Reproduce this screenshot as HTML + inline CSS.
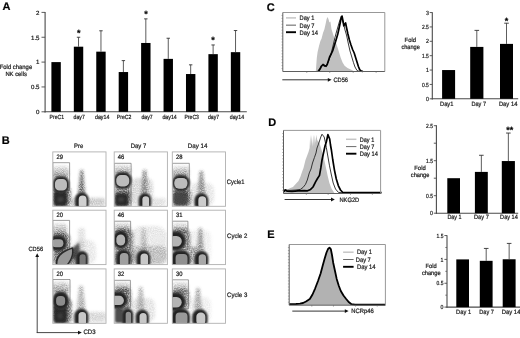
<!DOCTYPE html>
<html><head><meta charset="utf-8"><title>Figure</title>
<style>
html,body{margin:0;padding:0;background:#fff;}
body{width:520px;height:338px;overflow:hidden;font-family:"Liberation Sans",sans-serif;}
svg{display:block;position:absolute;left:0;top:0;}
text{font-family:"Liberation Sans",sans-serif;stroke:#222;stroke-width:0.22px;text-rendering:geometricPrecision;}
svg{filter:blur(0.32px);}
</style></head><body>
<svg width="520" height="338" viewBox="0 0 520 338">
<defs>
<linearGradient id="gv" x1="0" y1="0" x2="0" y2="1"><stop offset="0" stop-color="#555" stop-opacity="0.15"/><stop offset="0.55" stop-color="#555" stop-opacity="0.7"/><stop offset="1" stop-color="#444" stop-opacity="1"/></linearGradient>
<filter id="b05" x="-20%" y="-20%" width="140%" height="140%"><feGaussianBlur stdDeviation="0.5"/></filter>
<filter id="b1" x="-30%" y="-30%" width="160%" height="160%"><feGaussianBlur stdDeviation="1"/></filter>
<filter id="b15" x="-40%" y="-40%" width="180%" height="180%"><feGaussianBlur stdDeviation="1.5"/></filter>
<filter id="b2" x="-50%" y="-50%" width="200%" height="200%"><feGaussianBlur stdDeviation="2.2"/></filter>
<filter id="spk" x="-30%" y="-30%" width="160%" height="160%">
  <feGaussianBlur in="SourceGraphic" stdDeviation="1.6" result="bl"/>
  <feTurbulence type="fractalNoise" baseFrequency="0.95" numOctaves="2" seed="7" result="n"/>
  <feColorMatrix in="n" type="matrix" values="0 0 0 0 0  0 0 0 0 0  0 0 0 0 0  0 0 0 1.1 0.05" result="t"/>
  <feComposite in="bl" in2="t" operator="in" result="c"/>
  <feGaussianBlur in="c" stdDeviation="0.55"/>
</filter>
<filter id="b09" x="-30%" y="-30%" width="160%" height="160%"><feGaussianBlur stdDeviation="0.9"/></filter>
<filter id="b08" x="-30%" y="-30%" width="160%" height="160%"><feGaussianBlur stdDeviation="0.8"/></filter>
<filter id="b06" x="-30%" y="-30%" width="160%" height="160%"><feGaussianBlur stdDeviation="0.6"/></filter>
<filter id="b07" x="-30%" y="-30%" width="160%" height="160%"><feGaussianBlur stdDeviation="0.75"/></filter>
<filter id="b03" x="-5%" y="-5%" width="110%" height="110%"><feGaussianBlur stdDeviation="0.3"/></filter>
</defs>
<rect width="520" height="338" fill="#fff"/>

<g id="panelA">
<text x="2.6" y="10.2" font-size="11" text-anchor="start" font-weight="bold" fill="#000">A</text>
<line x1="45.1" y1="11.9" x2="45.1" y2="112.39999999999999" stroke="#4a4a4a" stroke-width="1.1"/>
<line x1="44.6" y1="111.8" x2="246.8" y2="111.8" stroke="#4a4a4a" stroke-width="1.1"/>
<line x1="41.5" y1="111.8" x2="45.1" y2="111.8" stroke="#4a4a4a" stroke-width="0.9"/>
<text x="39.5" y="114.05" font-size="6.1" text-anchor="end" font-weight="normal" fill="#222">0</text>
<line x1="41.5" y1="86.94999999999999" x2="45.1" y2="86.94999999999999" stroke="#4a4a4a" stroke-width="0.9"/>
<text x="39.5" y="89.19999999999999" font-size="6.1" text-anchor="end" font-weight="normal" fill="#222">0.5</text>
<line x1="41.5" y1="62.099999999999994" x2="45.1" y2="62.099999999999994" stroke="#4a4a4a" stroke-width="0.9"/>
<text x="39.5" y="64.35" font-size="6.1" text-anchor="end" font-weight="normal" fill="#222">1</text>
<line x1="41.5" y1="37.249999999999986" x2="45.1" y2="37.249999999999986" stroke="#4a4a4a" stroke-width="0.9"/>
<text x="39.5" y="39.499999999999986" font-size="6.1" text-anchor="end" font-weight="normal" fill="#222">1.5</text>
<line x1="41.5" y1="12.399999999999991" x2="45.1" y2="12.399999999999991" stroke="#4a4a4a" stroke-width="0.9"/>
<text x="39.5" y="14.649999999999991" font-size="6.1" text-anchor="end" font-weight="normal" fill="#222">2</text>
<rect x="51.4" y="62.1" width="9.4" height="49.7" fill="#000"/>
<text x="49.6" y="118.6" font-size="6.0" text-anchor="start" font-weight="normal" fill="#222" textLength="14.6" lengthAdjust="spacingAndGlyphs">PreC1</text>
<rect x="73.83" y="46.69" width="9.4" height="65.11" fill="#000"/>
<line x1="78.53" y1="37.249999999999986" x2="78.53" y2="46.693" stroke="#333" stroke-width="0.8"/>
<line x1="76.83" y1="37.249999999999986" x2="80.23" y2="37.249999999999986" stroke="#333" stroke-width="0.9"/>
<text x="73.6" y="118.6" font-size="6.0" text-anchor="start" font-weight="normal" fill="#222" textLength="11.2" lengthAdjust="spacingAndGlyphs">day7</text>
<rect x="96.26" y="51.66" width="9.4" height="60.14" fill="#000"/>
<line x1="100.96000000000001" y1="30.789" x2="100.96000000000001" y2="51.663" stroke="#333" stroke-width="0.8"/>
<line x1="99.26" y1="30.789" x2="102.66000000000001" y2="30.789" stroke="#333" stroke-width="0.9"/>
<text x="95.0" y="118.6" font-size="6.0" text-anchor="start" font-weight="normal" fill="#222" textLength="14.4" lengthAdjust="spacingAndGlyphs">day14</text>
<rect x="118.69" y="72.04" width="9.4" height="39.76" fill="#000"/>
<line x1="123.38999999999999" y1="60.608999999999995" x2="123.38999999999999" y2="72.03999999999999" stroke="#333" stroke-width="0.8"/>
<line x1="121.68999999999998" y1="60.608999999999995" x2="125.08999999999999" y2="60.608999999999995" stroke="#333" stroke-width="0.9"/>
<text x="116.8" y="118.6" font-size="6.0" text-anchor="start" font-weight="normal" fill="#222" textLength="14.6" lengthAdjust="spacingAndGlyphs">PreC2</text>
<rect x="141.12" y="42.97" width="9.4" height="68.83" fill="#000"/>
<line x1="145.82" y1="18.86099999999999" x2="145.82" y2="42.96549999999999" stroke="#333" stroke-width="0.8"/>
<line x1="144.12" y1="18.86099999999999" x2="147.51999999999998" y2="18.86099999999999" stroke="#333" stroke-width="0.9"/>
<text x="141.5" y="118.6" font-size="6.0" text-anchor="start" font-weight="normal" fill="#222" textLength="11.2" lengthAdjust="spacingAndGlyphs">day7</text>
<rect x="163.55" y="58.87" width="9.4" height="52.93" fill="#000"/>
<line x1="168.25" y1="38.244" x2="168.25" y2="58.869499999999995" stroke="#333" stroke-width="0.8"/>
<line x1="166.55" y1="38.244" x2="169.95" y2="38.244" stroke="#333" stroke-width="0.9"/>
<text x="162.4" y="118.6" font-size="6.0" text-anchor="start" font-weight="normal" fill="#222" textLength="14.4" lengthAdjust="spacingAndGlyphs">day14</text>
<rect x="185.98" y="74.03" width="9.4" height="37.77" fill="#000"/>
<line x1="190.67999999999998" y1="64.83349999999999" x2="190.67999999999998" y2="74.02799999999999" stroke="#333" stroke-width="0.8"/>
<line x1="188.98" y1="64.83349999999999" x2="192.37999999999997" y2="64.83349999999999" stroke="#333" stroke-width="0.9"/>
<text x="184.4" y="118.6" font-size="6.0" text-anchor="start" font-weight="normal" fill="#222" textLength="14.6" lengthAdjust="spacingAndGlyphs">PreC3</text>
<rect x="208.41" y="54.15" width="9.4" height="57.65" fill="#000"/>
<line x1="213.10999999999999" y1="44.95349999999999" x2="213.10999999999999" y2="54.147999999999996" stroke="#333" stroke-width="0.8"/>
<line x1="211.41" y1="44.95349999999999" x2="214.80999999999997" y2="44.95349999999999" stroke="#333" stroke-width="0.9"/>
<text x="208.0" y="118.6" font-size="6.0" text-anchor="start" font-weight="normal" fill="#222" textLength="11.2" lengthAdjust="spacingAndGlyphs">day7</text>
<rect x="230.84" y="52.16" width="9.4" height="59.64" fill="#000"/>
<line x1="235.54" y1="30.540499999999994" x2="235.54" y2="52.16" stroke="#333" stroke-width="0.8"/>
<line x1="233.84" y1="30.540499999999994" x2="237.23999999999998" y2="30.540499999999994" stroke="#333" stroke-width="0.9"/>
<text x="229.7" y="118.6" font-size="6.0" text-anchor="start" font-weight="normal" fill="#222" textLength="14.4" lengthAdjust="spacingAndGlyphs">day14</text>
<text x="78.7" y="35.6" font-size="9" text-anchor="middle" font-weight="bold" fill="#000">*</text>
<text x="146" y="17.3" font-size="9" text-anchor="middle" font-weight="bold" fill="#000">*</text>
<text x="213" y="42.7" font-size="9" text-anchor="middle" font-weight="bold" fill="#000">*</text>
<text x="-0.3" y="68.9" font-size="6.3" text-anchor="start" font-weight="normal" fill="#1a1a1a" textLength="32.5" lengthAdjust="spacingAndGlyphs">Fold change</text>
<text x="5.4" y="76.0" font-size="6.2" text-anchor="start" font-weight="normal" fill="#1a1a1a" textLength="21.5" lengthAdjust="spacingAndGlyphs">NK cells</text>
</g>
<g id="panelB">
<text x="1.8" y="144.2" font-size="11" text-anchor="start" font-weight="bold" fill="#000">B</text>
<text x="74" y="148" font-size="6.4" text-anchor="start" font-weight="normal" fill="#1a1a1a" textLength="9.2" lengthAdjust="spacingAndGlyphs">Pre</text>
<text x="130.8" y="148" font-size="6.4" text-anchor="start" font-weight="normal" fill="#1a1a1a" textLength="15.4" lengthAdjust="spacingAndGlyphs">Day 7</text>
<text x="187.8" y="148" font-size="6.4" text-anchor="start" font-weight="normal" fill="#1a1a1a" textLength="19.6" lengthAdjust="spacingAndGlyphs">Day 14</text>
<text x="226.8" y="183.7" font-size="6.5" text-anchor="start" font-weight="normal" fill="#1a1a1a" textLength="17.7" lengthAdjust="spacingAndGlyphs">Cycle1</text>
<text x="227" y="238.1" font-size="6.5" text-anchor="start" font-weight="normal" fill="#1a1a1a" textLength="20.3" lengthAdjust="spacingAndGlyphs">Cycle 2</text>
<text x="227" y="297" font-size="6.5" text-anchor="start" font-weight="normal" fill="#1a1a1a" textLength="20.3" lengthAdjust="spacingAndGlyphs">Cycle 3</text>
<text x="28.5" y="250.5" font-size="6.2" text-anchor="start" font-weight="normal" fill="#1a1a1a" textLength="14.6" lengthAdjust="spacingAndGlyphs">CD56</text>
<text x="83.5" y="334.2" font-size="6.4" text-anchor="start" font-weight="normal" fill="#1a1a1a" textLength="12" lengthAdjust="spacingAndGlyphs">CD3</text>
<line x1="37.2" y1="256" x2="37.2" y2="333.0" stroke="#333" stroke-width="0.9"/>
<line x1="36.8" y1="332.6" x2="78.4" y2="332.6" stroke="#333" stroke-width="0.9"/>
<path d="M37.2 253.3 L35.3 257 L39.1 257Z" fill="#111"/>
<path d="M81.8 332.6 L78 330.7 L78 334.5Z" fill="#111"/>
<g>
<clipPath id="c1"><rect x="52.8" y="151.9" width="53.2" height="54.4"/></clipPath>
<g clip-path="url(#c1)">
<path d="M56.70 165.50 H64.70 A3.9 3.9 0 0 1 68.60 169.40 V174.60 A3.9 3.9 0 0 1 64.70 178.50 H56.70 A3.9 3.9 0 0 1 52.80 174.60 V169.40 A3.9 3.9 0 0 1 56.70 165.50Z" fill="url(#gv)" opacity="0.95" filter="url(#spk)"/>
<path d="M58.20 186.00 H65.40 A5.3999999999999995 5.3999999999999995 0 0 1 70.80 191.40 V201.60 A5.3999999999999995 5.3999999999999995 0 0 1 65.40 207.00 H58.20 A5.3999999999999995 5.3999999999999995 0 0 1 52.80 201.60 V191.40 A5.3999999999999995 5.3999999999999995 0 0 1 58.20 186.00Z" fill="#333" opacity="0.9" filter="url(#spk)"/>
<path d="M80.35 170 L82.85 170 L85.1 194 L78.1 194Z" fill="#333" opacity="1" filter="url(#spk)"/>
<path d="M72.40 198.00 H102.60 A2.4 2.4 0 0 1 105.00 200.40 V203.60 A2.4 2.4 0 0 1 102.60 206.00 H72.40 A2.4 2.4 0 0 1 70.00 203.60 V200.40 A2.4 2.4 0 0 1 72.40 198.00Z" fill="#888" opacity="0.65" filter="url(#spk)"/>
<path d="M52.8 190.7 L52.8 162.7 L69.6 162.7 L69.6 190.7 Z" fill="none" stroke="#6a6a6a" stroke-width="0.65" filter="url(#b03)"/>
<path d="M57.60 190.50 H63.20 A4.2 4.2 0 0 1 67.40 194.70 V202.30 A4.2 4.2 0 0 1 63.20 206.50 H57.60 A4.2 4.2 0 0 1 53.40 202.30 V194.70 A4.2 4.2 0 0 1 57.60 190.50Z" fill="#262626" opacity="0.95" filter="url(#b1)"/>
<path d="M57.5 199.5 A3 2.5 0 1 0 63.5 199.5 A3 2.5 0 1 0 57.5 199.5Z" fill="#555" opacity="0.5" filter="url(#b1)"/>
<path d="M59.80 176.20 H62.20 A7 7 0 0 1 69.20 183.20 V185.80 A7 7 0 0 1 62.20 192.80 H59.80 A7 7 0 0 1 52.80 185.80 V183.20 A7 7 0 0 1 59.80 176.20Z" fill="#505050" filter="url(#b1)" opacity="0.7"/>
<path d="M59.30 176.70 H62.70 A6 6 0 0 1 68.70 182.70 V186.30 A6 6 0 0 1 62.70 192.30 H59.30 A6 6 0 0 1 53.30 186.30 V182.70 A6 6 0 0 1 59.30 176.70Z" fill="#242424" filter="url(#b08)"/>
<path d="M59.31 178.95 H62.59 A4.368 4.368 0 0 1 66.96 183.32 V186.19 A4.368 4.368 0 0 1 62.59 190.56 H59.31 A4.368 4.368 0 0 1 54.94 186.19 V183.32 A4.368 4.368 0 0 1 59.31 178.95Z" fill="#bcbcbc" filter="url(#b07)"/>
<path d="M81.80 192.60 H81.80 A6.600000000000001 6.600000000000001 0 0 1 88.40 199.20 V204.90 A6.600000000000001 6.600000000000001 0 0 1 81.80 211.50 H81.80 A6.600000000000001 6.600000000000001 0 0 1 75.20 204.90 V199.20 A6.600000000000001 6.600000000000001 0 0 1 81.80 192.60Z" fill="#505050" filter="url(#b1)" opacity="0.88"/>
<path d="M81.70 193.10 H81.90 A6 6 0 0 1 87.90 199.10 V205.00 A6 6 0 0 1 81.90 211.00 H81.70 A6 6 0 0 1 75.70 205.00 V199.10 A6 6 0 0 1 81.70 193.10Z" fill="#242424" filter="url(#b08)"/>
<path d="M82.59 195.57 H82.68 A3.888 3.888 0 0 1 86.56 199.46 V204.77 A3.888 3.888 0 0 1 82.68 208.66 H82.59 A3.888 3.888 0 0 1 78.70 204.77 V199.46 A3.888 3.888 0 0 1 82.59 195.57Z" fill="#d0d0d0" filter="url(#b07)"/>
</g>
<rect x="52.8" y="151.9" width="53.2" height="54.4" fill="none" stroke="#b0b0b0" stroke-width="0.9"/>
<text x="56.4" y="158.9" font-size="6.3" text-anchor="start" font-weight="normal" fill="#111" textLength="6.5" lengthAdjust="spacingAndGlyphs">29</text>
</g>
<g>
<clipPath id="c2"><rect x="114.2" y="151.9" width="53.2" height="54.4"/></clipPath>
<g clip-path="url(#c2)">
<path d="M117.20 164.50 H127.80 A3.0 3.0 0 0 1 130.80 167.50 V171.50 A3.0 3.0 0 0 1 127.80 174.50 H117.20 A3.0 3.0 0 0 1 114.20 171.50 V167.50 A3.0 3.0 0 0 1 117.20 164.50Z" fill="url(#gv)" opacity="0.85" filter="url(#spk)"/>
<path d="M117.20 186.00 H128.20 A3.0 3.0 0 0 1 131.20 189.00 V193.00 A3.0 3.0 0 0 1 128.20 196.00 H117.20 A3.0 3.0 0 0 1 114.20 193.00 V189.00 A3.0 3.0 0 0 1 117.20 186.00Z" fill="#555" opacity="1" filter="url(#spk)"/>
<path d="M118.70 192.00 H126.70 A4.5 4.5 0 0 1 131.20 196.50 V202.50 A4.5 4.5 0 0 1 126.70 207.00 H118.70 A4.5 4.5 0 0 1 114.20 202.50 V196.50 A4.5 4.5 0 0 1 118.70 192.00Z" fill="#333" opacity="0.9" filter="url(#spk)"/>
<path d="M143.1 170 L146.1 170 L148.1 194 L141.1 194Z" fill="#444" opacity="0.95" filter="url(#spk)"/>
<path d="M137.60 178.00 H146.40 A6.6 6.6 0 0 1 153.00 184.60 V199.40 A6.6 6.6 0 0 1 146.40 206.00 H137.60 A6.6 6.6 0 0 1 131.00 199.40 V184.60 A6.6 6.6 0 0 1 137.60 178.00Z" fill="#999" opacity="0.55" filter="url(#spk)"/>
<path d="M152.40 198.00 H163.60 A2.4 2.4 0 0 1 166.00 200.40 V203.60 A2.4 2.4 0 0 1 163.60 206.00 H152.40 A2.4 2.4 0 0 1 150.00 203.60 V200.40 A2.4 2.4 0 0 1 152.40 198.00Z" fill="#aaa" opacity="0.5" filter="url(#spk)"/>
<path d="M114.2 206.3 L114.2 163.3 L131.1 163.3 L131.1 206.3 Z" fill="none" stroke="#6a6a6a" stroke-width="0.65" filter="url(#b03)"/>
<path d="M118.90 193.50 H124.60 A3.9 3.9 0 0 1 128.50 197.40 V202.60 A3.9 3.9 0 0 1 124.60 206.50 H118.90 A3.9 3.9 0 0 1 115.00 202.60 V197.40 A3.9 3.9 0 0 1 118.90 193.50Z" fill="#262626" opacity="0.95" filter="url(#b1)"/>
<path d="M118 199.5 A3 2.2 0 1 0 124 199.5 A3 2.2 0 1 0 118 199.5Z" fill="#555" opacity="0.5" filter="url(#b1)"/>
<path d="M121.50 172.10 H124.10 A7.5 7.5 0 0 1 131.60 179.60 V181.30 A7.5 7.5 0 0 1 124.10 188.80 H121.50 A7.5 7.5 0 0 1 114.00 181.30 V179.60 A7.5 7.5 0 0 1 121.50 172.10Z" fill="#505050" filter="url(#b1)" opacity="0.7"/>
<path d="M121.00 172.60 H124.60 A6.5 6.5 0 0 1 131.10 179.10 V181.80 A6.5 6.5 0 0 1 124.60 188.30 H121.00 A6.5 6.5 0 0 1 114.50 181.80 V179.10 A6.5 6.5 0 0 1 121.00 172.60Z" fill="#242424" filter="url(#b08)"/>
<path d="M121.02 175.00 H124.47 A4.772 4.772 0 0 1 129.24 179.77 V181.67 A4.772 4.772 0 0 1 124.47 186.44 H121.02 A4.772 4.772 0 0 1 116.25 181.67 V179.77 A4.772 4.772 0 0 1 121.02 175.00Z" fill="#bcbcbc" filter="url(#b07)"/>
<path d="M144.90 193.20 H144.90 A5.999999999999986 5.999999999999986 0 0 1 150.90 199.20 V205.50 A5.999999999999986 5.999999999999986 0 0 1 144.90 211.50 H144.90 A5.999999999999986 5.999999999999986 0 0 1 138.90 205.50 V199.20 A5.999999999999986 5.999999999999986 0 0 1 144.90 193.20Z" fill="#505050" filter="url(#b1)" opacity="0.88"/>
<path d="M144.90 193.70 H144.90 A5.499999999999986 5.499999999999986 0 0 1 150.40 199.20 V205.50 A5.499999999999986 5.499999999999986 0 0 1 144.90 211.00 H144.90 A5.499999999999986 5.499999999999986 0 0 1 139.40 205.50 V199.20 A5.499999999999986 5.499999999999986 0 0 1 144.90 193.70Z" fill="#242424" filter="url(#b08)"/>
<path d="M145.73 196.17 H145.73 A3.3315999999999946 3.3315999999999946 0 0 1 149.06 199.50 V205.33 A3.3315999999999946 3.3315999999999946 0 0 1 145.73 208.66 H145.73 A3.3315999999999946 3.3315999999999946 0 0 1 142.40 205.33 V199.50 A3.3315999999999946 3.3315999999999946 0 0 1 145.73 196.17Z" fill="#cccccc" filter="url(#b07)"/>
</g>
<rect x="114.2" y="151.9" width="53.2" height="54.4" fill="none" stroke="#b0b0b0" stroke-width="0.9"/>
<text x="117.8" y="158.9" font-size="6.3" text-anchor="start" font-weight="normal" fill="#111" textLength="6.5" lengthAdjust="spacingAndGlyphs">46</text>
</g>
<g>
<clipPath id="c3"><rect x="172.3" y="151.9" width="53.2" height="54.4"/></clipPath>
<g clip-path="url(#c3)">
<path d="M175.90 165.50 H185.50 A3.5999999999999996 3.5999999999999996 0 0 1 189.10 169.10 V173.90 A3.5999999999999996 3.5999999999999996 0 0 1 185.50 177.50 H175.90 A3.5999999999999996 3.5999999999999996 0 0 1 172.30 173.90 V169.10 A3.5999999999999996 3.5999999999999996 0 0 1 175.90 165.50Z" fill="url(#gv)" opacity="0.95" filter="url(#spk)"/>
<path d="M178.00 188.00 H185.60 A5.7 5.7 0 0 1 191.30 193.70 V201.30 A5.7 5.7 0 0 1 185.60 207.00 H178.00 A5.7 5.7 0 0 1 172.30 201.30 V193.70 A5.7 5.7 0 0 1 178.00 188.00Z" fill="#333" opacity="0.95" filter="url(#spk)"/>
<path d="M199.8 171 L202.8 171 L205.3 194 L197.3 194Z" fill="#505050" opacity="0.95" filter="url(#spk)"/>
<path d="M195.90 183.00 H207.10 A6.8999999999999995 6.8999999999999995 0 0 1 214.00 189.90 V199.10 A6.8999999999999995 6.8999999999999995 0 0 1 207.10 206.00 H195.90 A6.8999999999999995 6.8999999999999995 0 0 1 189.00 199.10 V189.90 A6.8999999999999995 6.8999999999999995 0 0 1 195.90 183.00Z" fill="#aaa" opacity="0.42" filter="url(#spk)"/>
<path d="M172.3 191.3 L172.3 163.3 L189.3 163.3 L189.3 191.3 Z" fill="none" stroke="#6a6a6a" stroke-width="0.65" filter="url(#b03)"/>
<path d="M177.30 191.50 H183.90 A4.2 4.2 0 0 1 188.10 195.70 V201.30 A4.2 4.2 0 0 1 183.90 205.50 H177.30 A4.2 4.2 0 0 1 173.10 201.30 V195.70 A4.2 4.2 0 0 1 177.30 191.50Z" fill="#3a3a3a" opacity="0.85" filter="url(#b1)"/>
<path d="M179.50 175.00 H182.30 A7.5 7.5 0 0 1 189.80 182.50 V183.50 A7.5 7.5 0 0 1 182.30 191.00 H179.50 A7.5 7.5 0 0 1 172.00 183.50 V182.50 A7.5 7.5 0 0 1 179.50 175.00Z" fill="#505050" filter="url(#b1)" opacity="0.7"/>
<path d="M179.00 175.50 H182.80 A6.5 6.5 0 0 1 189.30 182.00 V184.00 A6.5 6.5 0 0 1 182.80 190.50 H179.00 A6.5 6.5 0 0 1 172.50 184.00 V182.00 A6.5 6.5 0 0 1 179.00 175.50Z" fill="#242424" filter="url(#b08)"/>
<path d="M179.02 177.90 H182.67 A4.772 4.772 0 0 1 187.44 182.67 V183.87 A4.772 4.772 0 0 1 182.67 188.64 H179.02 A4.772 4.772 0 0 1 174.25 183.87 V182.67 A4.772 4.772 0 0 1 179.02 177.90Z" fill="#bcbcbc" filter="url(#b07)"/>
<path d="M201.40 193.20 H201.40 A6.699999999999989 6.699999999999989 0 0 1 208.10 199.90 V204.80 A6.699999999999989 6.699999999999989 0 0 1 201.40 211.50 H201.40 A6.699999999999989 6.699999999999989 0 0 1 194.70 204.80 V199.90 A6.699999999999989 6.699999999999989 0 0 1 201.40 193.20Z" fill="#505050" filter="url(#b1)" opacity="0.88"/>
<path d="M201.40 193.70 H201.40 A6.199999999999989 6.199999999999989 0 0 1 207.60 199.90 V204.80 A6.199999999999989 6.199999999999989 0 0 1 201.40 211.00 H201.40 A6.199999999999989 6.199999999999989 0 0 1 195.20 204.80 V199.90 A6.199999999999989 6.199999999999989 0 0 1 201.40 193.70Z" fill="#242424" filter="url(#b08)"/>
<path d="M202.27 196.30 H202.27 A3.91940000000001 3.91940000000001 0 0 1 206.19 200.22 V204.62 A3.91940000000001 3.91940000000001 0 0 1 202.27 208.54 H202.27 A3.91940000000001 3.91940000000001 0 0 1 198.35 204.62 V200.22 A3.91940000000001 3.91940000000001 0 0 1 202.27 196.30Z" fill="#cccccc" filter="url(#b07)"/>
</g>
<rect x="172.3" y="151.9" width="53.2" height="54.4" fill="none" stroke="#b0b0b0" stroke-width="0.9"/>
<text x="175.9" y="158.9" font-size="6.3" text-anchor="start" font-weight="normal" fill="#111" textLength="6.5" lengthAdjust="spacingAndGlyphs">28</text>
</g>
<g>
<clipPath id="c4"><rect x="52.8" y="210.2" width="53.2" height="54.4"/></clipPath>
<g clip-path="url(#c4)">
<path d="M57.00 222.50 H62.60 A4.2 4.2 0 0 1 66.80 226.70 V232.30 A4.2 4.2 0 0 1 62.60 236.50 H57.00 A4.2 4.2 0 0 1 52.80 232.30 V226.70 A4.2 4.2 0 0 1 57.00 222.50Z" fill="url(#gv)" opacity="0.95" filter="url(#spk)"/>
<path d="M57.90 233.00 H64.70 A5.1 5.1 0 0 1 69.80 238.10 V247.90 A5.1 5.1 0 0 1 64.70 253.00 H57.90 A5.1 5.1 0 0 1 52.80 247.90 V238.10 A5.1 5.1 0 0 1 57.90 233.00Z" fill="#3a3a3a" opacity="0.95" filter="url(#spk)"/>
<path d="M57.90 248.00 H71.70 A5.1 5.1 0 0 1 76.80 253.10 V259.90 A5.1 5.1 0 0 1 71.70 265.00 H57.90 A5.1 5.1 0 0 1 52.80 259.90 V253.10 A5.1 5.1 0 0 1 57.90 248.00Z" fill="#333" opacity="0.9" filter="url(#spk)"/>
<path d="M80.10 228.00 H82.90 A2.1 2.1 0 0 1 85.00 230.10 V247.90 A2.1 2.1 0 0 1 82.90 250.00 H80.10 A2.1 2.1 0 0 1 78.00 247.90 V230.10 A2.1 2.1 0 0 1 80.10 228.00Z" fill="#bbb" opacity="0.6" filter="url(#spk)"/>
<path d="M79.20 240.00 H88.80 A7.199999999999999 7.199999999999999 0 0 1 96.00 247.20 V256.80 A7.199999999999999 7.199999999999999 0 0 1 88.80 264.00 H79.20 A7.199999999999999 7.199999999999999 0 0 1 72.00 256.80 V247.20 A7.199999999999999 7.199999999999999 0 0 1 79.20 240.00Z" fill="#999" opacity="0.3" filter="url(#spk)"/>
<path d="M52.8 247.4 L52.8 220.4 L69.6 220.4 L69.6 247.4 Z" fill="none" stroke="#6a6a6a" stroke-width="0.65" filter="url(#b03)"/>
<path d="M70 250 L79 242.5 L80 250 L76 258 L71 260Z" fill="#333" opacity="0.8" filter="url(#b1)"/>
<path d="M56.30 235.40 H59.10 A7.499999999999986 7.499999999999986 0 0 1 66.60 242.90 V242.90 A7.499999999999986 7.499999999999986 0 0 1 59.10 250.40 H56.30 A7.499999999999986 7.499999999999986 0 0 1 48.80 242.90 V242.90 A7.499999999999986 7.499999999999986 0 0 1 56.30 235.40Z" fill="#505050" filter="url(#b1)" opacity="0.85"/>
<path d="M55.80 235.90 H59.60 A6.5 6.5 0 0 1 66.10 242.40 V243.40 A6.5 6.5 0 0 1 59.60 249.90 H55.80 A6.5 6.5 0 0 1 49.30 243.40 V242.40 A6.5 6.5 0 0 1 55.80 235.90Z" fill="#242424" filter="url(#b08)"/>
<path d="M55.77 239.35 H59.48 A3.924999999999997 3.924999999999997 0 0 1 63.40 243.27 V243.27 A3.924999999999997 3.924999999999997 0 0 1 59.48 247.20 H55.77 A3.924999999999997 3.924999999999997 0 0 1 51.85 243.27 V243.27 A3.924999999999997 3.924999999999997 0 0 1 55.77 239.35Z" fill="#a0a0a0" filter="url(#b07)"/>
<path d="M56 266 C54.2 257.4 59.4 251 73 247.2 C74.4 253 72.6 261 66.2 267 Z" fill="#2c2c2c" opacity="1" filter="url(#b07)"/>
<path d="M57.6 266 C56.4 258.4 60.8 252.6 71.8 249 C72.7 255 70.4 261 65.4 266 Z" fill="#989898" opacity="1" filter="url(#b07)"/>
<path d="M81.70 251.00 H81.70 A6.100000000000001 6.100000000000001 0 0 1 87.80 257.10 V263.70 A6.100000000000001 6.100000000000001 0 0 1 81.70 269.80 H81.70 A6.100000000000001 6.100000000000001 0 0 1 75.60 263.70 V257.10 A6.100000000000001 6.100000000000001 0 0 1 81.70 251.00Z" fill="#505050" filter="url(#b1)" opacity="0.88"/>
<path d="M81.50 251.50 H81.90 A5.4 5.4 0 0 1 87.30 256.90 V263.90 A5.4 5.4 0 0 1 81.90 269.30 H81.50 A5.4 5.4 0 0 1 76.10 263.90 V256.90 A5.4 5.4 0 0 1 81.50 251.50Z" fill="#242424" filter="url(#b08)"/>
<path d="M82.55 254.35 H82.74 A3.0 3.0 0 0 1 85.74 257.35 V263.60 A3.0 3.0 0 0 1 82.74 266.60 H82.55 A3.0 3.0 0 0 1 79.55 263.60 V257.35 A3.0 3.0 0 0 1 82.55 254.35Z" fill="#787878" filter="url(#b07)"/>
</g>
<rect x="52.8" y="210.2" width="53.2" height="54.4" fill="none" stroke="#b0b0b0" stroke-width="0.9"/>
<text x="56.4" y="217.2" font-size="6.3" text-anchor="start" font-weight="normal" fill="#111" textLength="6.5" lengthAdjust="spacingAndGlyphs">20</text>
</g>
<g>
<clipPath id="c5"><rect x="114.2" y="210.2" width="53.2" height="54.4"/></clipPath>
<g clip-path="url(#c5)">
<path d="M117.20 222.50 H127.20 A3.0 3.0 0 0 1 130.20 225.50 V229.50 A3.0 3.0 0 0 1 127.20 232.50 H117.20 A3.0 3.0 0 0 1 114.20 229.50 V225.50 A3.0 3.0 0 0 1 117.20 222.50Z" fill="url(#gv)" opacity="0.95" filter="url(#spk)"/>
<path d="M119.90 229.00 H127.50 A5.7 5.7 0 0 1 133.20 234.70 V245.30 A5.7 5.7 0 0 1 127.50 251.00 H119.90 A5.7 5.7 0 0 1 114.20 245.30 V234.70 A5.7 5.7 0 0 1 119.90 229.00Z" fill="#3a3a3a" opacity="0.9" filter="url(#spk)"/>
<path d="M119.00 249.00 H129.40 A4.8 4.8 0 0 1 134.20 253.80 V260.20 A4.8 4.8 0 0 1 129.40 265.00 H119.00 A4.8 4.8 0 0 1 114.20 260.20 V253.80 A4.8 4.8 0 0 1 119.00 249.00Z" fill="#333" opacity="0.85" filter="url(#spk)"/>
<path d="M141.80 226.00 H156.20 A10.799999999999999 10.799999999999999 0 0 1 167.00 236.80 V253.20 A10.799999999999999 10.799999999999999 0 0 1 156.20 264.00 H141.80 A10.799999999999999 10.799999999999999 0 0 1 131.00 253.20 V236.80 A10.799999999999999 10.799999999999999 0 0 1 141.80 226.00Z" fill="#aaa" opacity="0.4" filter="url(#spk)"/>
<path d="M135.40 246.00 H161.60 A5.3999999999999995 5.3999999999999995 0 0 1 167.00 251.40 V258.60 A5.3999999999999995 5.3999999999999995 0 0 1 161.60 264.00 H135.40 A5.3999999999999995 5.3999999999999995 0 0 1 130.00 258.60 V251.40 A5.3999999999999995 5.3999999999999995 0 0 1 135.40 246.00Z" fill="#777" opacity="0.55" filter="url(#spk)"/>
<path d="M142.1 228 L145.1 228 L147.1 251 L140.1 251Z" fill="#888" opacity="0.7" filter="url(#spk)"/>
<path d="M114.2 249.2 L114.2 221.2 L130.6 221.2 L130.6 249.2 Z" fill="none" stroke="#6a6a6a" stroke-width="0.65" filter="url(#b03)"/>
<path d="M120.80 230.60 H120.80 A7.399999999999999 7.399999999999999 0 0 1 128.20 238.00 V241.20 A7.399999999999999 7.399999999999999 0 0 1 120.80 248.60 H120.80 A7.399999999999999 7.399999999999999 0 0 1 113.40 241.20 V238.00 A7.399999999999999 7.399999999999999 0 0 1 120.80 230.60Z" fill="#505050" filter="url(#b1)" opacity="0.7"/>
<path d="M120.70 231.10 H120.90 A6.8 6.8 0 0 1 127.70 237.90 V241.30 A6.8 6.8 0 0 1 120.90 248.10 H120.70 A6.8 6.8 0 0 1 113.90 241.30 V237.90 A6.8 6.8 0 0 1 120.70 231.10Z" fill="#242424" filter="url(#b08)"/>
<path d="M120.73 234.40 H120.73 A4.392000000000003 4.392000000000003 0 0 1 125.12 238.79 V241.13 A4.392000000000003 4.392000000000003 0 0 1 120.73 245.52 H120.73 A4.392000000000003 4.392000000000003 0 0 1 116.34 241.13 V238.79 A4.392000000000003 4.392000000000003 0 0 1 120.73 234.40Z" fill="#b4b4b4" filter="url(#b07)"/>
<path d="M123.20 249.80 H123.40 A7 7 0 0 1 130.40 256.80 V262.80 A7 7 0 0 1 123.40 269.80 H123.20 A7 7 0 0 1 116.20 262.80 V256.80 A7 7 0 0 1 123.20 249.80Z" fill="#505050" filter="url(#b1)" opacity="0.88"/>
<path d="M122.70 250.30 H123.90 A6 6 0 0 1 129.90 256.30 V263.30 A6 6 0 0 1 123.90 269.30 H122.70 A6 6 0 0 1 116.70 263.30 V256.30 A6 6 0 0 1 122.70 250.30Z" fill="#242424" filter="url(#b08)"/>
<path d="M123.64 252.90 H124.70 A3.7920000000000003 3.7920000000000003 0 0 1 128.49 256.69 V263.05 A3.7920000000000003 3.7920000000000003 0 0 1 124.70 266.84 H123.64 A3.7920000000000003 3.7920000000000003 0 0 1 119.85 263.05 V256.69 A3.7920000000000003 3.7920000000000003 0 0 1 123.64 252.90Z" fill="#a0a0a0" filter="url(#b07)"/>
<path d="M143.40 250.20 H143.40 A6.699999999999989 6.699999999999989 0 0 1 150.10 256.90 V263.10 A6.699999999999989 6.699999999999989 0 0 1 143.40 269.80 H143.40 A6.699999999999989 6.699999999999989 0 0 1 136.70 263.10 V256.90 A6.699999999999989 6.699999999999989 0 0 1 143.40 250.20Z" fill="#505050" filter="url(#b1)" opacity="0.88"/>
<path d="M143.20 250.70 H143.60 A6 6 0 0 1 149.60 256.70 V263.30 A6 6 0 0 1 143.60 269.30 H143.20 A6 6 0 0 1 137.20 263.30 V256.70 A6 6 0 0 1 143.20 250.70Z" fill="#242424" filter="url(#b08)"/>
<path d="M144.20 253.42 H144.42 A3.696 3.696 0 0 1 148.11 257.12 V263.02 A3.696 3.696 0 0 1 144.42 266.72 H144.20 A3.696 3.696 0 0 1 140.50 263.02 V257.12 A3.696 3.696 0 0 1 144.20 253.42Z" fill="#c8c8c8" filter="url(#b07)"/>
</g>
<rect x="114.2" y="210.2" width="53.2" height="54.4" fill="none" stroke="#b0b0b0" stroke-width="0.9"/>
<text x="117.8" y="217.2" font-size="6.3" text-anchor="start" font-weight="normal" fill="#111" textLength="6.5" lengthAdjust="spacingAndGlyphs">46</text>
</g>
<g>
<clipPath id="c6"><rect x="172.3" y="210.2" width="53.2" height="54.4"/></clipPath>
<g clip-path="url(#c6)">
<path d="M175.60 222.50 H184.00 A3.3 3.3 0 0 1 187.30 225.80 V230.20 A3.3 3.3 0 0 1 184.00 233.50 H175.60 A3.3 3.3 0 0 1 172.30 230.20 V225.80 A3.3 3.3 0 0 1 175.60 222.50Z" fill="url(#gv)" opacity="0.9" filter="url(#spk)"/>
<path d="M177.70 229.00 H184.90 A5.3999999999999995 5.3999999999999995 0 0 1 190.30 234.40 V245.60 A5.3999999999999995 5.3999999999999995 0 0 1 184.90 251.00 H177.70 A5.3999999999999995 5.3999999999999995 0 0 1 172.30 245.60 V234.40 A5.3999999999999995 5.3999999999999995 0 0 1 177.70 229.00Z" fill="#3a3a3a" opacity="0.85" filter="url(#spk)"/>
<path d="M195.60 230.00 H204.40 A6.6 6.6 0 0 1 211.00 236.60 V256.40 A6.6 6.6 0 0 1 204.40 263.00 H195.60 A6.6 6.6 0 0 1 189.00 256.40 V236.60 A6.6 6.6 0 0 1 195.60 230.00Z" fill="#bbb" opacity="0.32" filter="url(#spk)"/>
<path d="M191.00 247.00 H195.00 A3.0 3.0 0 0 1 198.00 250.00 V261.00 A3.0 3.0 0 0 1 195.00 264.00 H191.00 A3.0 3.0 0 0 1 188.00 261.00 V250.00 A3.0 3.0 0 0 1 191.00 247.00Z" fill="#555" opacity="0.7" filter="url(#spk)"/>
<path d="M198.8 228 L201.8 228 L203.8 252 L196.8 252Z" fill="#606060" opacity="0.9" filter="url(#spk)"/>
<path d="M172.3 249.7 L172.3 221.2 L187.9 221.2 L187.9 249.7 Z" fill="none" stroke="#6a6a6a" stroke-width="0.65" filter="url(#b03)"/>
<path d="M174.30 231.30 H176.10 A9.5 9.5 0 0 1 185.60 240.80 V240.90 A9.5 9.5 0 0 1 176.10 250.40 H174.30 A9.5 9.5 0 0 1 164.80 240.90 V240.80 A9.5 9.5 0 0 1 174.30 231.30Z" fill="#505050" filter="url(#b1)" opacity="0.7"/>
<path d="M173.80 231.80 H176.60 A8.5 8.5 0 0 1 185.10 240.30 V241.40 A8.5 8.5 0 0 1 176.60 249.90 H173.80 A8.5 8.5 0 0 1 165.30 241.40 V240.30 A8.5 8.5 0 0 1 173.80 231.80Z" fill="#242424" filter="url(#b08)"/>
<path d="M173.72 236.00 H176.50 A5.299999999999997 5.299999999999997 0 0 1 181.80 241.30 V241.30 A5.299999999999997 5.299999999999997 0 0 1 176.50 246.60 H173.72 A5.299999999999997 5.299999999999997 0 0 1 168.42 241.30 V241.30 A5.299999999999997 5.299999999999997 0 0 1 173.72 236.00Z" fill="#b4b4b4" filter="url(#b07)"/>
<path d="M178.70 250.20 H182.30 A7.5 7.5 0 0 1 189.80 257.70 V262.30 A7.5 7.5 0 0 1 182.30 269.80 H178.70 A7.5 7.5 0 0 1 171.20 262.30 V257.70 A7.5 7.5 0 0 1 178.70 250.20Z" fill="#505050" filter="url(#b1)" opacity="0.88"/>
<path d="M178.20 250.70 H182.80 A6.5 6.5 0 0 1 189.30 257.20 V262.80 A6.5 6.5 0 0 1 182.80 269.30 H178.20 A6.5 6.5 0 0 1 171.70 262.80 V257.20 A6.5 6.5 0 0 1 178.20 250.70Z" fill="#242424" filter="url(#b08)"/>
<path d="M179.41 253.93 H183.70 A3.812 3.812 0 0 1 187.52 257.74 V262.43 A3.812 3.812 0 0 1 183.70 266.24 H179.41 A3.812 3.812 0 0 1 175.60 262.43 V257.74 A3.812 3.812 0 0 1 179.41 253.93Z" fill="#909090" filter="url(#b07)"/>
<path d="M201.40 251.00 H201.40 A6.699999999999989 6.699999999999989 0 0 1 208.10 257.70 V263.10 A6.699999999999989 6.699999999999989 0 0 1 201.40 269.80 H201.40 A6.699999999999989 6.699999999999989 0 0 1 194.70 263.10 V257.70 A6.699999999999989 6.699999999999989 0 0 1 201.40 251.00Z" fill="#505050" filter="url(#b1)" opacity="0.88"/>
<path d="M201.20 251.50 H201.60 A6 6 0 0 1 207.60 257.50 V263.30 A6 6 0 0 1 201.60 269.30 H201.20 A6 6 0 0 1 195.20 263.30 V257.50 A6 6 0 0 1 201.20 251.50Z" fill="#242424" filter="url(#b08)"/>
<path d="M202.25 254.35 H202.44 A3.5999999999999996 3.5999999999999996 0 0 1 206.04 257.95 V263.00 A3.5999999999999996 3.5999999999999996 0 0 1 202.44 266.60 H202.25 A3.5999999999999996 3.5999999999999996 0 0 1 198.65 263.00 V257.95 A3.5999999999999996 3.5999999999999996 0 0 1 202.25 254.35Z" fill="#a8a8a8" filter="url(#b07)"/>
</g>
<rect x="172.3" y="210.2" width="53.2" height="54.4" fill="none" stroke="#b0b0b0" stroke-width="0.9"/>
<text x="175.9" y="217.2" font-size="6.3" text-anchor="start" font-weight="normal" fill="#111" textLength="6.5" lengthAdjust="spacingAndGlyphs">31</text>
</g>
<g>
<clipPath id="c7"><rect x="52.8" y="268.9" width="53.2" height="54.4"/></clipPath>
<g clip-path="url(#c7)">
<path d="M56.70 281.00 H64.90 A3.9 3.9 0 0 1 68.80 284.90 V290.10 A3.9 3.9 0 0 1 64.90 294.00 H56.70 A3.9 3.9 0 0 1 52.80 290.10 V284.90 A3.9 3.9 0 0 1 56.70 281.00Z" fill="url(#gv)" opacity="1" filter="url(#spk)"/>
<path d="M58.50 298.00 H66.10 A5.7 5.7 0 0 1 71.80 303.70 V318.30 A5.7 5.7 0 0 1 66.10 324.00 H58.50 A5.7 5.7 0 0 1 52.80 318.30 V303.70 A5.7 5.7 0 0 1 58.50 298.00Z" fill="#333" opacity="0.9" filter="url(#spk)"/>
<path d="M79.25 286 L82.75 286 L85.5 310 L76.5 310Z" fill="#777" opacity="0.8" filter="url(#spk)"/>
<path d="M75.00 312.00 H103.00 A3.0 3.0 0 0 1 106.00 315.00 V319.00 A3.0 3.0 0 0 1 103.00 322.00 H75.00 A3.0 3.0 0 0 1 72.00 319.00 V315.00 A3.0 3.0 0 0 1 75.00 312.00Z" fill="#999" opacity="0.55" filter="url(#spk)"/>
<path d="M52.8 307.5 L52.8 279.5 L70.0 279.5 L70.0 307.5 Z" fill="none" stroke="#6a6a6a" stroke-width="0.65" filter="url(#b03)"/>
<path d="M57.60 305.00 H63.20 A4.2 4.2 0 0 1 67.40 309.20 V319.30 A4.2 4.2 0 0 1 63.20 323.50 H57.60 A4.2 4.2 0 0 1 53.40 319.30 V309.20 A4.2 4.2 0 0 1 57.60 305.00Z" fill="#262626" opacity="0.95" filter="url(#b1)"/>
<path d="M57.5 316 A2.5 3 0 1 0 62.5 316 A2.5 3 0 1 0 57.5 316Z" fill="#555" opacity="0.4" filter="url(#b1)"/>
<path d="M60.30 291.80 H61.10 A7.5 7.5 0 0 1 68.60 299.30 V301.70 A7.5 7.5 0 0 1 61.10 309.20 H60.30 A7.5 7.5 0 0 1 52.80 301.70 V299.30 A7.5 7.5 0 0 1 60.30 291.80Z" fill="#505050" filter="url(#b1)" opacity="0.85"/>
<path d="M59.80 292.30 H61.60 A6.5 6.5 0 0 1 68.10 298.80 V302.20 A6.5 6.5 0 0 1 61.60 308.70 H59.80 A6.5 6.5 0 0 1 53.30 302.20 V298.80 A6.5 6.5 0 0 1 59.80 292.30Z" fill="#242424" filter="url(#b08)"/>
<path d="M59.99 296.05 H61.25 A3.9079999999999995 3.9079999999999995 0 0 1 65.16 299.96 V301.85 A3.9079999999999995 3.9079999999999995 0 0 1 61.25 305.76 H59.99 A3.9079999999999995 3.9079999999999995 0 0 1 56.08 301.85 V299.96 A3.9079999999999995 3.9079999999999995 0 0 1 59.99 296.05Z" fill="#8c8c8c" filter="url(#b07)"/>
<path d="M81.40 308.80 H81.40 A6.700000000000003 6.700000000000003 0 0 1 88.10 315.50 V321.80 A6.700000000000003 6.700000000000003 0 0 1 81.40 328.50 H81.40 A6.700000000000003 6.700000000000003 0 0 1 74.70 321.80 V315.50 A6.700000000000003 6.700000000000003 0 0 1 81.40 308.80Z" fill="#505050" filter="url(#b1)" opacity="0.88"/>
<path d="M81.20 309.30 H81.60 A6 6 0 0 1 87.60 315.30 V322.00 A6 6 0 0 1 81.60 328.00 H81.20 A6 6 0 0 1 75.20 322.00 V315.30 A6 6 0 0 1 81.20 309.30Z" fill="#242424" filter="url(#b08)"/>
<path d="M82.20 312.02 H82.42 A3.696 3.696 0 0 1 86.11 315.72 V321.72 A3.696 3.696 0 0 1 82.42 325.42 H82.20 A3.696 3.696 0 0 1 78.50 321.72 V315.72 A3.696 3.696 0 0 1 82.20 312.02Z" fill="#c8c8c8" filter="url(#b07)"/>
</g>
<rect x="52.8" y="268.9" width="53.2" height="54.4" fill="none" stroke="#b0b0b0" stroke-width="0.9"/>
<text x="56.4" y="275.9" font-size="6.3" text-anchor="start" font-weight="normal" fill="#111" textLength="6.5" lengthAdjust="spacingAndGlyphs">20</text>
</g>
<g>
<clipPath id="c8"><rect x="114.2" y="268.9" width="53.2" height="54.4"/></clipPath>
<g clip-path="url(#c8)">
<path d="M117.65 281.50 H126.25 A3.4499999999999997 3.4499999999999997 0 0 1 129.70 284.95 V289.55 A3.4499999999999997 3.4499999999999997 0 0 1 126.25 293.00 H117.65 A3.4499999999999997 3.4499999999999997 0 0 1 114.20 289.55 V284.95 A3.4499999999999997 3.4499999999999997 0 0 1 117.65 281.50Z" fill="url(#gv)" opacity="0.95" filter="url(#spk)"/>
<path d="M119.30 288.00 H126.10 A5.1 5.1 0 0 1 131.20 293.10 V304.90 A5.1 5.1 0 0 1 126.10 310.00 H119.30 A5.1 5.1 0 0 1 114.20 304.90 V293.10 A5.1 5.1 0 0 1 119.30 288.00Z" fill="#3a3a3a" opacity="0.9" filter="url(#spk)"/>
<path d="M139.2 287 L142.2 287 L144.7 310 L136.7 310Z" fill="#777" opacity="0.8" filter="url(#spk)"/>
<path d="M138.20 298.00 H147.80 A7.199999999999999 7.199999999999999 0 0 1 155.00 305.20 V314.80 A7.199999999999999 7.199999999999999 0 0 1 147.80 322.00 H138.20 A7.199999999999999 7.199999999999999 0 0 1 131.00 314.80 V305.20 A7.199999999999999 7.199999999999999 0 0 1 138.20 298.00Z" fill="#aaa" opacity="0.45" filter="url(#spk)"/>
<path d="M114.2 307.8 L114.2 280.3 L130.4 280.3 L130.4 307.8 Z" fill="none" stroke="#6a6a6a" stroke-width="0.65" filter="url(#b03)"/>
<path d="M117.40 308.00 H121.00 A2.6999999999999997 2.6999999999999997 0 0 1 123.70 310.70 V320.30 A2.6999999999999997 2.6999999999999997 0 0 1 121.00 323.00 H117.40 A2.6999999999999997 2.6999999999999997 0 0 1 114.70 320.30 V310.70 A2.6999999999999997 2.6999999999999997 0 0 1 117.40 308.00Z" fill="#3a3a3a" opacity="0.9" filter="url(#b1)"/>
<path d="M115.90 291.40 H118.90 A8.599999999999966 8.599999999999966 0 0 1 127.50 300.00 V300.00 A8.599999999999966 8.599999999999966 0 0 1 118.90 308.60 H115.90 A8.599999999999966 8.599999999999966 0 0 1 107.30 300.00 V300.00 A8.599999999999966 8.599999999999966 0 0 1 115.90 291.40Z" fill="#505050" filter="url(#b1)" opacity="0.7"/>
<path d="M115.90 291.90 H118.90 A8.099999999999966 8.099999999999966 0 0 1 127.00 300.00 V300.00 A8.099999999999966 8.099999999999966 0 0 1 118.90 308.10 H115.90 A8.099999999999966 8.099999999999966 0 0 1 107.80 300.00 V300.00 A8.099999999999966 8.099999999999966 0 0 1 115.90 291.90Z" fill="#242424" filter="url(#b08)"/>
<path d="M115.31 295.80 H119.32 A4.619999999999976 4.619999999999976 0 0 1 123.94 300.42 V300.42 A4.619999999999976 4.619999999999976 0 0 1 119.32 305.04 H115.31 A4.619999999999976 4.619999999999976 0 0 1 110.69 300.42 V300.42 A4.619999999999976 4.619999999999976 0 0 1 115.31 295.80Z" fill="#b4b4b4" filter="url(#b07)"/>
<path d="M127.50 308.60 H127.50 A5.5 5.5 0 0 1 133.00 314.10 V323.00 A5.5 5.5 0 0 1 127.50 328.50 H127.50 A5.5 5.5 0 0 1 122.00 323.00 V314.10 A5.5 5.5 0 0 1 127.50 308.60Z" fill="#505050" filter="url(#b1)" opacity="0.88"/>
<path d="M127.50 309.10 H127.50 A5 5 0 0 1 132.50 314.10 V323.00 A5 5 0 0 1 127.50 328.00 H127.50 A5 5 0 0 1 122.50 323.00 V314.10 A5 5 0 0 1 127.50 309.10Z" fill="#242424" filter="url(#b08)"/>
<path d="M128.37 311.70 H128.37 A2.7194000000000074 2.7194000000000074 0 0 1 131.09 314.42 V322.82 A2.7194000000000074 2.7194000000000074 0 0 1 128.37 325.54 H128.37 A2.7194000000000074 2.7194000000000074 0 0 1 125.65 322.82 V314.42 A2.7194000000000074 2.7194000000000074 0 0 1 128.37 311.70Z" fill="#909090" filter="url(#b07)"/>
<path d="M142.25 309.80 H142.25 A6.349999999999994 6.349999999999994 0 0 1 148.60 316.15 V322.15 A6.349999999999994 6.349999999999994 0 0 1 142.25 328.50 H142.25 A6.349999999999994 6.349999999999994 0 0 1 135.90 322.15 V316.15 A6.349999999999994 6.349999999999994 0 0 1 142.25 309.80Z" fill="#505050" filter="url(#b1)" opacity="0.88"/>
<path d="M142.20 310.30 H142.30 A5.8 5.8 0 0 1 148.10 316.10 V322.20 A5.8 5.8 0 0 1 142.30 328.00 H142.20 A5.8 5.8 0 0 1 136.40 322.20 V316.10 A5.8 5.8 0 0 1 142.20 310.30Z" fill="#242424" filter="url(#b08)"/>
<path d="M143.12 312.90 H143.12 A3.569400000000016 3.569400000000016 0 0 1 146.69 316.47 V321.97 A3.569400000000016 3.569400000000016 0 0 1 143.12 325.54 H143.12 A3.569400000000016 3.569400000000016 0 0 1 139.55 321.97 V316.47 A3.569400000000016 3.569400000000016 0 0 1 143.12 312.90Z" fill="#c8c8c8" filter="url(#b07)"/>
</g>
<rect x="114.2" y="268.9" width="53.2" height="54.4" fill="none" stroke="#b0b0b0" stroke-width="0.9"/>
<text x="117.8" y="275.9" font-size="6.3" text-anchor="start" font-weight="normal" fill="#111" textLength="6.5" lengthAdjust="spacingAndGlyphs">32</text>
</g>
<g>
<clipPath id="c9"><rect x="172.3" y="268.9" width="53.2" height="54.4"/></clipPath>
<g clip-path="url(#c9)">
<path d="M175.90 281.50 H184.20 A3.5999999999999996 3.5999999999999996 0 0 1 187.80 285.10 V289.90 A3.5999999999999996 3.5999999999999996 0 0 1 184.20 293.50 H175.90 A3.5999999999999996 3.5999999999999996 0 0 1 172.30 289.90 V285.10 A3.5999999999999996 3.5999999999999996 0 0 1 175.90 281.50Z" fill="url(#gv)" opacity="0.9" filter="url(#spk)"/>
<path d="M177.40 289.00 H184.20 A5.1 5.1 0 0 1 189.30 294.10 V303.90 A5.1 5.1 0 0 1 184.20 309.00 H177.40 A5.1 5.1 0 0 1 172.30 303.90 V294.10 A5.1 5.1 0 0 1 177.40 289.00Z" fill="#444" opacity="0.85" filter="url(#spk)"/>
<path d="M196.5 288 L199.5 288 L202.0 310 L194.0 310Z" fill="#666" opacity="0.85" filter="url(#spk)"/>
<path d="M195.60 297.00 H204.40 A6.6 6.6 0 0 1 211.00 303.60 V316.40 A6.6 6.6 0 0 1 204.40 323.00 H195.60 A6.6 6.6 0 0 1 189.00 316.40 V303.60 A6.6 6.6 0 0 1 195.60 297.00Z" fill="#bbb" opacity="0.32" filter="url(#spk)"/>
<path d="M172.3 308.8 L172.3 279.8 L188.4 279.8 L188.4 308.8 Z" fill="none" stroke="#6a6a6a" stroke-width="0.65" filter="url(#b03)"/>
<path d="M174.20 292.40 H176.10 A9.399999999999977 9.399999999999977 0 0 1 185.50 301.80 V301.80 A9.399999999999977 9.399999999999977 0 0 1 176.10 311.20 H174.20 A9.399999999999977 9.399999999999977 0 0 1 164.80 301.80 V301.80 A9.399999999999977 9.399999999999977 0 0 1 174.20 292.40Z" fill="#505050" filter="url(#b1)" opacity="0.7"/>
<path d="M173.80 292.90 H176.50 A8.5 8.5 0 0 1 185.00 301.40 V302.20 A8.5 8.5 0 0 1 176.50 310.70 H173.80 A8.5 8.5 0 0 1 165.30 302.20 V301.40 A8.5 8.5 0 0 1 173.80 292.90Z" fill="#242424" filter="url(#b08)"/>
<path d="M173.57 297.10 H176.55 A5.149999999999977 5.149999999999977 0 0 1 181.70 302.25 V302.25 A5.149999999999977 5.149999999999977 0 0 1 176.55 307.40 H173.57 A5.149999999999977 5.149999999999977 0 0 1 168.42 302.25 V302.25 A5.149999999999977 5.149999999999977 0 0 1 173.57 297.10Z" fill="#b4b4b4" filter="url(#b07)"/>
<path d="M178.70 308.80 H182.30 A7.5 7.5 0 0 1 189.80 316.30 V321.00 A7.5 7.5 0 0 1 182.30 328.50 H178.70 A7.5 7.5 0 0 1 171.20 321.00 V316.30 A7.5 7.5 0 0 1 178.70 308.80Z" fill="#505050" filter="url(#b1)" opacity="0.88"/>
<path d="M178.20 309.30 H182.80 A6.5 6.5 0 0 1 189.30 315.80 V321.50 A6.5 6.5 0 0 1 182.80 328.00 H178.20 A6.5 6.5 0 0 1 171.70 321.50 V315.80 A6.5 6.5 0 0 1 178.20 309.30Z" fill="#242424" filter="url(#b08)"/>
<path d="M179.41 312.53 H183.70 A3.812 3.812 0 0 1 187.52 316.34 V321.13 A3.812 3.812 0 0 1 183.70 324.94 H179.41 A3.812 3.812 0 0 1 175.60 321.13 V316.34 A3.812 3.812 0 0 1 179.41 312.53Z" fill="#999999" filter="url(#b07)"/>
<path d="M199.90 309.20 H199.90 A7.499999999999986 7.499999999999986 0 0 1 207.40 316.70 V321.00 A7.499999999999986 7.499999999999986 0 0 1 199.90 328.50 H199.90 A7.499999999999986 7.499999999999986 0 0 1 192.40 321.00 V316.70 A7.499999999999986 7.499999999999986 0 0 1 199.90 309.20Z" fill="#505050" filter="url(#b1)" opacity="0.88"/>
<path d="M199.50 309.70 H200.30 A6.6 6.6 0 0 1 206.90 316.30 V321.40 A6.6 6.6 0 0 1 200.30 328.00 H199.50 A6.6 6.6 0 0 1 192.90 321.40 V316.30 A6.6 6.6 0 0 1 199.50 309.70Z" fill="#242424" filter="url(#b08)"/>
<path d="M200.55 312.55 H201.14 A4.199999999999999 4.199999999999999 0 0 1 205.34 316.75 V321.10 A4.199999999999999 4.199999999999999 0 0 1 201.14 325.30 H200.55 A4.199999999999999 4.199999999999999 0 0 1 196.35 321.10 V316.75 A4.199999999999999 4.199999999999999 0 0 1 200.55 312.55Z" fill="#c8c8c8" filter="url(#b07)"/>
</g>
<rect x="172.3" y="268.9" width="53.2" height="54.4" fill="none" stroke="#b0b0b0" stroke-width="0.9"/>
<text x="175.9" y="275.9" font-size="6.3" text-anchor="start" font-weight="normal" fill="#111" textLength="6.5" lengthAdjust="spacingAndGlyphs">30</text>
</g>
</g>
<g id="panelC">
<text x="266.8" y="10.6" font-size="11" text-anchor="start" font-weight="bold" fill="#000">C</text>
<polygon points="315.8,71.6 316.2,66 316.8,58 317.6,52 319,46 320.4,41 321.5,38.8 323,33 324.4,29.2 325.6,24 326.6,19 327.6,17 328.6,19.5 329.4,22.5 330.4,21.5 331.5,29.2 333,34 334.6,38.8 336.2,43.5 337.9,48.5 339.4,53.5 340.8,58 342.6,62.5 344.6,65.8 347.5,68 351.3,69.8 354.6,71.6" fill="#c0c0c0"/>
<polyline points="317.5,71.2 319.5,69 321.5,66 323,65.5 325,66.5 327,64.5 329,60 330.4,55.8 332.5,48 335,37.3 337,30 339.6,21 341.3,16 342.4,20 343.6,24 345,30 346.5,35 348.2,43 350,51 351.8,57 353.5,62.7 355,67 357,70.5 359,71.3" fill="none" stroke="#222" stroke-width="0.9" stroke-linejoin="round"/>
<polyline points="318.6,71.2 320,69 321.5,66 323,64.5 324.5,65.5 326,66.3 327.2,64.5 328.5,60.5 329.6,57 331.2,54 332.6,51 334,46.5 335.6,41.5 337.8,34 339.6,25.8 341,19 342,16 343,21 343.8,25.8 344.8,24 345.6,23 346.6,28 347.9,34 349.4,40 351,45 352.6,49.5 354.2,53 355.6,57.5 357,62 358.4,66.5 359.8,69.8 361.4,71.2 363,71.4" fill="none" stroke="#000" stroke-width="1.7" stroke-linejoin="round"/>
<path d="M282.8 12.5 H384.8 V71.5" fill="none" stroke="#929292" stroke-width="0.95"/>
<path d="M282.8 12.5 V71.5 H384.8" fill="none" stroke="#5e5e5e" stroke-width="1.0"/>
<line x1="281.5" y1="15.45" x2="282.8" y2="15.45" stroke="#666" stroke-width="0.5"/>
<line x1="281.5" y1="18.4" x2="282.8" y2="18.4" stroke="#666" stroke-width="0.5"/>
<line x1="281.5" y1="21.35" x2="282.8" y2="21.35" stroke="#666" stroke-width="0.5"/>
<line x1="281.5" y1="24.3" x2="282.8" y2="24.3" stroke="#666" stroke-width="0.5"/>
<line x1="281.5" y1="27.25" x2="282.8" y2="27.25" stroke="#666" stroke-width="0.5"/>
<line x1="281.5" y1="30.2" x2="282.8" y2="30.2" stroke="#666" stroke-width="0.5"/>
<line x1="281.5" y1="33.15" x2="282.8" y2="33.15" stroke="#666" stroke-width="0.5"/>
<line x1="281.5" y1="36.1" x2="282.8" y2="36.1" stroke="#666" stroke-width="0.5"/>
<line x1="281.5" y1="39.05" x2="282.8" y2="39.05" stroke="#666" stroke-width="0.5"/>
<line x1="281.5" y1="42.0" x2="282.8" y2="42.0" stroke="#666" stroke-width="0.5"/>
<line x1="281.5" y1="44.95" x2="282.8" y2="44.95" stroke="#666" stroke-width="0.5"/>
<line x1="281.5" y1="47.9" x2="282.8" y2="47.9" stroke="#666" stroke-width="0.5"/>
<line x1="281.5" y1="50.85" x2="282.8" y2="50.85" stroke="#666" stroke-width="0.5"/>
<line x1="281.5" y1="53.8" x2="282.8" y2="53.8" stroke="#666" stroke-width="0.5"/>
<line x1="281.5" y1="56.75" x2="282.8" y2="56.75" stroke="#666" stroke-width="0.5"/>
<line x1="281.5" y1="59.7" x2="282.8" y2="59.7" stroke="#666" stroke-width="0.5"/>
<line x1="281.5" y1="62.65" x2="282.8" y2="62.65" stroke="#666" stroke-width="0.5"/>
<line x1="281.5" y1="65.6" x2="282.8" y2="65.6" stroke="#666" stroke-width="0.5"/>
<line x1="281.5" y1="68.55" x2="282.8" y2="68.55" stroke="#666" stroke-width="0.5"/>
<line x1="306.77" y1="71.5" x2="306.77" y2="72.9" stroke="#666" stroke-width="0.6"/>
<line x1="329.72" y1="71.5" x2="329.72" y2="72.9" stroke="#666" stroke-width="0.6"/>
<line x1="353.18" y1="71.5" x2="353.18" y2="72.9" stroke="#666" stroke-width="0.6"/>
<line x1="376.13" y1="71.5" x2="376.13" y2="72.9" stroke="#666" stroke-width="0.6"/>
<line x1="286" y1="17.9" x2="296" y2="17.9" stroke="#c6c6c6" stroke-width="1.5"/>
<line x1="286" y1="25.2" x2="296" y2="25.2" stroke="#8a8a8a" stroke-width="1.4"/>
<line x1="286" y1="32.2" x2="296" y2="32.2" stroke="#000" stroke-width="1.9"/>
<text x="299.6" y="20.1" font-size="6.4" text-anchor="start" font-weight="normal" fill="#1a1a1a" textLength="14.8" lengthAdjust="spacingAndGlyphs">Day 1</text>
<text x="299.6" y="28.4" font-size="6.4" text-anchor="start" font-weight="normal" fill="#1a1a1a" textLength="14.9" lengthAdjust="spacingAndGlyphs">Day 7</text>
<text x="299.6" y="34.9" font-size="6.4" text-anchor="start" font-weight="normal" fill="#1a1a1a" textLength="18.5" lengthAdjust="spacingAndGlyphs">Day 14</text>
<line x1="282.3" y1="79.8" x2="329.1" y2="79.8" stroke="#333" stroke-width="1.0"/>
<path d="M331.6 79.8 L327.8 77.89999999999999 L327.8 81.7Z" fill="#111"/>
<text x="333.4" y="81.9" font-size="6.3" text-anchor="start" font-weight="normal" fill="#1a1a1a" textLength="14.6" lengthAdjust="spacingAndGlyphs">CD56</text>
</g>
<g id="panelD">
<text x="268.3" y="126" font-size="11" text-anchor="start" font-weight="bold" fill="#000">D</text>
<polygon points="283.6,193.2 283.6,189.4 287.0,189.8 290.3,188.0 293.0,187.0 296.6,183.0 298.5,181.0 300.4,176.7 302.0,172.0 303.5,168.0 305.5,160.0 307.0,156.0 308.5,152.0 309.6,148.0 310.2,134.7 310.9,146.0 311.6,135.0 312.4,147.0 313.2,134.5 314.0,146.0 314.8,135.0 315.6,143.0 316.4,134.8 317.2,140.0 319.5,143.0 321.0,148.0 322.5,153.0 324.3,160.0 326.0,168.0 327.7,176.0 329.4,183.0 331.5,188.5 334.5,193.2" fill="#c0c0c0"/>
<polyline points="283.8,190.0 290.0,190.4 296.0,190.0 300.4,189.4 303.0,187.5 305.5,184.3 307.3,180.0 309.3,172.9 311.0,169.0 312.5,163.0 314.4,157.6 316.0,153.0 317.0,148.0 318.2,144.9 319.5,141.0 320.8,137.0 322.0,134.2 324.2,137.0 325.3,142.0 326.3,147.4 327.8,156.0 329.4,165.2 331.2,174.0 333.2,183.0 335.5,189.0 338.3,192.3 342.0,192.8" fill="none" stroke="#222" stroke-width="0.9" stroke-linejoin="round"/>
<polyline points="283.8,191.5 285.5,190.0 287.0,191.2 292.0,191.4 298.0,190.8 304.2,190.6 307.5,190.8 310.6,189.4 313.0,187.0 315.7,181.7 317.5,178.5 319.5,175.4 320.8,168.0 322.0,160.0 323.5,153.0 325.0,146.0 326.3,142.0 327.2,138.0 327.9,134.7 329.7,139.0 330.5,145.0 331.4,150.0 332.8,160.0 334.5,170.3 336.3,179.0 338.3,185.6 340.5,190.0 342.6,192.3 346.0,192.7 381.6,192.7" fill="none" stroke="#000" stroke-width="1.7" stroke-linejoin="round"/>
<path d="M283.5 130.4 H380.6 V193.5" fill="none" stroke="#929292" stroke-width="0.95"/>
<path d="M283.5 130.4 V193.5 H380.6" fill="none" stroke="#5e5e5e" stroke-width="1.0"/>
<line x1="282.2" y1="133.555" x2="283.5" y2="133.555" stroke="#666" stroke-width="0.5"/>
<line x1="282.2" y1="136.71" x2="283.5" y2="136.71" stroke="#666" stroke-width="0.5"/>
<line x1="282.2" y1="139.865" x2="283.5" y2="139.865" stroke="#666" stroke-width="0.5"/>
<line x1="282.2" y1="143.02" x2="283.5" y2="143.02" stroke="#666" stroke-width="0.5"/>
<line x1="282.2" y1="146.175" x2="283.5" y2="146.175" stroke="#666" stroke-width="0.5"/>
<line x1="282.2" y1="149.33" x2="283.5" y2="149.33" stroke="#666" stroke-width="0.5"/>
<line x1="282.2" y1="152.485" x2="283.5" y2="152.485" stroke="#666" stroke-width="0.5"/>
<line x1="282.2" y1="155.64000000000001" x2="283.5" y2="155.64000000000001" stroke="#666" stroke-width="0.5"/>
<line x1="282.2" y1="158.79500000000002" x2="283.5" y2="158.79500000000002" stroke="#666" stroke-width="0.5"/>
<line x1="282.2" y1="161.95000000000002" x2="283.5" y2="161.95000000000002" stroke="#666" stroke-width="0.5"/>
<line x1="282.2" y1="165.10500000000002" x2="283.5" y2="165.10500000000002" stroke="#666" stroke-width="0.5"/>
<line x1="282.2" y1="168.26" x2="283.5" y2="168.26" stroke="#666" stroke-width="0.5"/>
<line x1="282.2" y1="171.41500000000002" x2="283.5" y2="171.41500000000002" stroke="#666" stroke-width="0.5"/>
<line x1="282.2" y1="174.57" x2="283.5" y2="174.57" stroke="#666" stroke-width="0.5"/>
<line x1="282.2" y1="177.725" x2="283.5" y2="177.725" stroke="#666" stroke-width="0.5"/>
<line x1="282.2" y1="180.88" x2="283.5" y2="180.88" stroke="#666" stroke-width="0.5"/>
<line x1="282.2" y1="184.035" x2="283.5" y2="184.035" stroke="#666" stroke-width="0.5"/>
<line x1="282.2" y1="187.19" x2="283.5" y2="187.19" stroke="#666" stroke-width="0.5"/>
<line x1="282.2" y1="190.345" x2="283.5" y2="190.345" stroke="#666" stroke-width="0.5"/>
<line x1="306.31850000000003" y1="193.5" x2="306.31850000000003" y2="194.9" stroke="#666" stroke-width="0.6"/>
<line x1="328.166" y1="193.5" x2="328.166" y2="194.9" stroke="#666" stroke-width="0.6"/>
<line x1="350.499" y1="193.5" x2="350.499" y2="194.9" stroke="#666" stroke-width="0.6"/>
<line x1="372.3465" y1="193.5" x2="372.3465" y2="194.9" stroke="#666" stroke-width="0.6"/>
<line x1="346" y1="139.3" x2="356.4" y2="139.3" stroke="#c6c6c6" stroke-width="1.5"/>
<line x1="346" y1="146.6" x2="356.4" y2="146.6" stroke="#444" stroke-width="0.8"/>
<line x1="346" y1="153.7" x2="356.4" y2="153.7" stroke="#000" stroke-width="1.9"/>
<text x="359.8" y="141.6" font-size="6.4" text-anchor="start" font-weight="normal" fill="#1a1a1a" textLength="14.4" lengthAdjust="spacingAndGlyphs">Day 1</text>
<text x="359.8" y="149" font-size="6.4" text-anchor="start" font-weight="normal" fill="#1a1a1a" textLength="14.5" lengthAdjust="spacingAndGlyphs">Day 7</text>
<text x="359.8" y="156.3" font-size="6.4" text-anchor="start" font-weight="normal" fill="#1a1a1a" textLength="18.1" lengthAdjust="spacingAndGlyphs">Day 14</text>
<line x1="284.6" y1="199.5" x2="332.3" y2="199.5" stroke="#333" stroke-width="1.0"/>
<path d="M334.8 199.5 L331.0 197.6 L331.0 201.4Z" fill="#111"/>
<text x="339.4" y="201.9" font-size="6.3" text-anchor="start" font-weight="normal" fill="#1a1a1a" textLength="19.9" lengthAdjust="spacingAndGlyphs">NKG2D</text>
</g>
<g id="panelE">
<text x="267.2" y="238" font-size="11" text-anchor="start" font-weight="bold" fill="#000">E</text>
<polygon points="289.2,304.2 296,304 300,303.6 303,303 306,301.5 309.8,299 312.5,294.5 315.2,288.3 318,281 320.6,273.5 322.6,266 324.6,258.7 326.5,252.5 328,249 329.5,247.6 330.8,249 332,255 333.2,262.7 335,271 336.7,278.9 338.7,285.5 340.8,291 343.5,295.5 346.2,299 349,302.3 351.5,304.2 355,304.6 355,305 289.2,305" fill="#b2b2b2"/>
<polyline points="289.2,304.2 296,304 300,303.6 303,303 306,301.5 309.8,299 312.5,294.5 315.2,288.3 318,281 320.6,273.5 322.6,266 324.6,258.7 326.5,252.5 328,249 329.5,247.6 330.8,249 332,255 333.2,262.7 335,271 336.7,278.9 338.7,285.5 340.8,291 343.5,295.5 346.2,299 349,302.3 351.5,304.2 355,304.6 385.2,304.6" fill="none" stroke="#000" stroke-width="1.8" stroke-linejoin="round"/>
<path d="M289.2 244.5 H385.4 V305.2" fill="none" stroke="#929292" stroke-width="0.95"/>
<path d="M289.2 244.5 V305.2 H385.4" fill="none" stroke="#5e5e5e" stroke-width="1.0"/>
<line x1="287.9" y1="247.535" x2="289.2" y2="247.535" stroke="#666" stroke-width="0.5"/>
<line x1="287.9" y1="250.57" x2="289.2" y2="250.57" stroke="#666" stroke-width="0.5"/>
<line x1="287.9" y1="253.605" x2="289.2" y2="253.605" stroke="#666" stroke-width="0.5"/>
<line x1="287.9" y1="256.64" x2="289.2" y2="256.64" stroke="#666" stroke-width="0.5"/>
<line x1="287.9" y1="259.675" x2="289.2" y2="259.675" stroke="#666" stroke-width="0.5"/>
<line x1="287.9" y1="262.71" x2="289.2" y2="262.71" stroke="#666" stroke-width="0.5"/>
<line x1="287.9" y1="265.745" x2="289.2" y2="265.745" stroke="#666" stroke-width="0.5"/>
<line x1="287.9" y1="268.78" x2="289.2" y2="268.78" stroke="#666" stroke-width="0.5"/>
<line x1="287.9" y1="271.815" x2="289.2" y2="271.815" stroke="#666" stroke-width="0.5"/>
<line x1="287.9" y1="274.85" x2="289.2" y2="274.85" stroke="#666" stroke-width="0.5"/>
<line x1="287.9" y1="277.885" x2="289.2" y2="277.885" stroke="#666" stroke-width="0.5"/>
<line x1="287.9" y1="280.92" x2="289.2" y2="280.92" stroke="#666" stroke-width="0.5"/>
<line x1="287.9" y1="283.955" x2="289.2" y2="283.955" stroke="#666" stroke-width="0.5"/>
<line x1="287.9" y1="286.99" x2="289.2" y2="286.99" stroke="#666" stroke-width="0.5"/>
<line x1="287.9" y1="290.025" x2="289.2" y2="290.025" stroke="#666" stroke-width="0.5"/>
<line x1="287.9" y1="293.06" x2="289.2" y2="293.06" stroke="#666" stroke-width="0.5"/>
<line x1="287.9" y1="296.09499999999997" x2="289.2" y2="296.09499999999997" stroke="#666" stroke-width="0.5"/>
<line x1="287.9" y1="299.13" x2="289.2" y2="299.13" stroke="#666" stroke-width="0.5"/>
<line x1="287.9" y1="302.16499999999996" x2="289.2" y2="302.16499999999996" stroke="#666" stroke-width="0.5"/>
<line x1="311.80699999999996" y1="305.2" x2="311.80699999999996" y2="306.59999999999997" stroke="#666" stroke-width="0.6"/>
<line x1="333.452" y1="305.2" x2="333.452" y2="306.59999999999997" stroke="#666" stroke-width="0.6"/>
<line x1="355.578" y1="305.2" x2="355.578" y2="306.59999999999997" stroke="#666" stroke-width="0.6"/>
<line x1="377.22299999999996" y1="305.2" x2="377.22299999999996" y2="306.59999999999997" stroke="#666" stroke-width="0.6"/>
<line x1="343.1" y1="252.2" x2="353.6" y2="252.2" stroke="#c6c6c6" stroke-width="1.5"/>
<line x1="343.1" y1="259.5" x2="353.6" y2="259.5" stroke="#444" stroke-width="0.8"/>
<line x1="343.1" y1="266.8" x2="353.6" y2="266.8" stroke="#000" stroke-width="1.9"/>
<text x="356.9" y="254.4" font-size="6.4" text-anchor="start" font-weight="normal" fill="#1a1a1a" textLength="15" lengthAdjust="spacingAndGlyphs">Day 1</text>
<text x="355.8" y="261.9" font-size="6.4" text-anchor="start" font-weight="normal" fill="#1a1a1a" textLength="15" lengthAdjust="spacingAndGlyphs">Day 7</text>
<text x="356.9" y="268.9" font-size="6.4" text-anchor="start" font-weight="normal" fill="#1a1a1a" textLength="18.7" lengthAdjust="spacingAndGlyphs">Day 14</text>
<line x1="292.3" y1="311.1" x2="346.1" y2="311.1" stroke="#333" stroke-width="1.0"/>
<path d="M348.6 311.1 L344.8 309.20000000000005 L344.8 313.0Z" fill="#111"/>
<text x="351.3" y="313.4" font-size="6.3" text-anchor="start" font-weight="normal" fill="#1a1a1a" textLength="22.5" lengthAdjust="spacingAndGlyphs">NCRp46</text>
</g>
<g id="barC">
<line x1="432.3" y1="12.149999999999997" x2="432.3" y2="99.39999999999999" stroke="#4a4a4a" stroke-width="1.1"/>
<line x1="431.8" y1="98.8" x2="518.2" y2="98.8" stroke="#4a4a4a" stroke-width="1.1"/>
<line x1="429.7" y1="98.8" x2="432.3" y2="98.8" stroke="#4a4a4a" stroke-width="0.9"/>
<text x="428.8" y="100.89999999999999" font-size="5.9" text-anchor="end" font-weight="normal" fill="#222" textLength="2.9" lengthAdjust="spacingAndGlyphs">0</text>
<line x1="429.7" y1="84.425" x2="432.3" y2="84.425" stroke="#4a4a4a" stroke-width="0.9"/>
<text x="428.8" y="86.52499999999999" font-size="5.9" text-anchor="end" font-weight="normal" fill="#222" textLength="6.9" lengthAdjust="spacingAndGlyphs">0.5</text>
<line x1="429.7" y1="70.05" x2="432.3" y2="70.05" stroke="#4a4a4a" stroke-width="0.9"/>
<text x="428.8" y="72.14999999999999" font-size="5.9" text-anchor="end" font-weight="normal" fill="#222" textLength="2.9" lengthAdjust="spacingAndGlyphs">1</text>
<line x1="429.7" y1="55.675" x2="432.3" y2="55.675" stroke="#4a4a4a" stroke-width="0.9"/>
<text x="428.8" y="57.775" font-size="5.9" text-anchor="end" font-weight="normal" fill="#222" textLength="6.9" lengthAdjust="spacingAndGlyphs">1.5</text>
<line x1="429.7" y1="41.3" x2="432.3" y2="41.3" stroke="#4a4a4a" stroke-width="0.9"/>
<text x="428.8" y="43.4" font-size="5.9" text-anchor="end" font-weight="normal" fill="#222" textLength="2.9" lengthAdjust="spacingAndGlyphs">2</text>
<line x1="429.7" y1="26.924999999999997" x2="432.3" y2="26.924999999999997" stroke="#4a4a4a" stroke-width="0.9"/>
<text x="428.8" y="29.025" font-size="5.9" text-anchor="end" font-weight="normal" fill="#222" textLength="6.9" lengthAdjust="spacingAndGlyphs">2.5</text>
<line x1="429.7" y1="12.549999999999997" x2="432.3" y2="12.549999999999997" stroke="#4a4a4a" stroke-width="0.9"/>
<text x="428.8" y="14.649999999999997" font-size="5.9" text-anchor="end" font-weight="normal" fill="#222" textLength="2.9" lengthAdjust="spacingAndGlyphs">3</text>
<rect x="442.1" y="70.05" width="13.0" height="28.75" fill="#000"/>
<text x="440" y="106.4" font-size="6.3" text-anchor="start" font-weight="normal" fill="#1a1a1a" textLength="13.4" lengthAdjust="spacingAndGlyphs">Day1</text>
<rect x="470.2" y="46.91" width="13.2" height="51.89" fill="#000"/>
<line x1="476.79999999999995" y1="30.375" x2="476.79999999999995" y2="46.90625" stroke="#333" stroke-width="0.8"/>
<line x1="474.49999999999994" y1="30.375" x2="479.09999999999997" y2="30.375" stroke="#333" stroke-width="0.9"/>
<text x="471.5" y="106.4" font-size="6.3" text-anchor="start" font-weight="normal" fill="#1a1a1a" textLength="14.5" lengthAdjust="spacingAndGlyphs">Day 7</text>
<rect x="500.0" y="43.89" width="13.0" height="54.91" fill="#000"/>
<line x1="506.5" y1="23.1875" x2="506.5" y2="43.8875" stroke="#333" stroke-width="0.8"/>
<line x1="504.2" y1="23.1875" x2="508.8" y2="23.1875" stroke="#333" stroke-width="0.9"/>
<text x="498.9" y="106.4" font-size="6.3" text-anchor="start" font-weight="normal" fill="#1a1a1a" textLength="18.5" lengthAdjust="spacingAndGlyphs">Day 14</text>
<text x="404.6" y="42.3" font-size="6.2" text-anchor="start" font-weight="normal" fill="#1a1a1a" textLength="11.4" lengthAdjust="spacingAndGlyphs">Fold</text>
<text x="401.4" y="49.3" font-size="6.2" text-anchor="start" font-weight="normal" fill="#1a1a1a" textLength="18.4" lengthAdjust="spacingAndGlyphs">change</text>
<text x="506.5" y="24.2" font-size="9" text-anchor="middle" font-weight="bold" fill="#000">*</text>
</g>
<g id="barD">
<line x1="436.4" y1="125.29999999999998" x2="436.4" y2="213.79999999999998" stroke="#4a4a4a" stroke-width="1.1"/>
<line x1="435.9" y1="213.2" x2="518.2" y2="213.2" stroke="#4a4a4a" stroke-width="1.1"/>
<line x1="433.79999999999995" y1="213.2" x2="436.4" y2="213.2" stroke="#4a4a4a" stroke-width="0.9"/>
<text x="432.9" y="215.29999999999998" font-size="5.9" text-anchor="end" font-weight="normal" fill="#222" textLength="2.9" lengthAdjust="spacingAndGlyphs">0</text>
<line x1="433.79999999999995" y1="195.7" x2="436.4" y2="195.7" stroke="#4a4a4a" stroke-width="0.9"/>
<text x="432.9" y="197.79999999999998" font-size="5.9" text-anchor="end" font-weight="normal" fill="#222" textLength="6.9" lengthAdjust="spacingAndGlyphs">0.5</text>
<line x1="433.79999999999995" y1="178.2" x2="436.4" y2="178.2" stroke="#4a4a4a" stroke-width="0.9"/>
<line x1="433.79999999999995" y1="160.7" x2="436.4" y2="160.7" stroke="#4a4a4a" stroke-width="0.9"/>
<text x="432.9" y="162.79999999999998" font-size="5.9" text-anchor="end" font-weight="normal" fill="#222" textLength="6.9" lengthAdjust="spacingAndGlyphs">1.5</text>
<line x1="433.79999999999995" y1="143.2" x2="436.4" y2="143.2" stroke="#4a4a4a" stroke-width="0.9"/>
<line x1="433.79999999999995" y1="125.69999999999999" x2="436.4" y2="125.69999999999999" stroke="#4a4a4a" stroke-width="0.9"/>
<text x="432.9" y="127.79999999999998" font-size="5.9" text-anchor="end" font-weight="normal" fill="#222" textLength="6.9" lengthAdjust="spacingAndGlyphs">2.5</text>
<rect x="447.3" y="178.2" width="12.7" height="35.0" fill="#000"/>
<text x="447.4" y="218.5" font-size="6.3" text-anchor="start" font-weight="normal" fill="#1a1a1a" textLength="14.2" lengthAdjust="spacingAndGlyphs">Day 1</text>
<rect x="474.9" y="171.9" width="12.9" height="41.3" fill="#000"/>
<line x1="481.35" y1="155.27499999999998" x2="481.35" y2="171.89999999999998" stroke="#333" stroke-width="0.8"/>
<line x1="479.05" y1="155.27499999999998" x2="483.65000000000003" y2="155.27499999999998" stroke="#333" stroke-width="0.9"/>
<text x="474" y="218.5" font-size="6.3" text-anchor="start" font-weight="normal" fill="#1a1a1a" textLength="14.8" lengthAdjust="spacingAndGlyphs">Day 7</text>
<rect x="501.8" y="161.05" width="13.1" height="52.15" fill="#000"/>
<line x1="508.35" y1="133.04999999999998" x2="508.35" y2="161.04999999999998" stroke="#333" stroke-width="0.8"/>
<line x1="506.05" y1="133.04999999999998" x2="510.65000000000003" y2="133.04999999999998" stroke="#333" stroke-width="0.9"/>
<text x="500.1" y="218.5" font-size="6.3" text-anchor="start" font-weight="normal" fill="#1a1a1a" textLength="17.7" lengthAdjust="spacingAndGlyphs">Day 14</text>
<text x="414.3" y="169.9" font-size="6.2" text-anchor="start" font-weight="normal" fill="#1a1a1a" textLength="11.4" lengthAdjust="spacingAndGlyphs">Fold</text>
<text x="410.8" y="176.7" font-size="6.2" text-anchor="start" font-weight="normal" fill="#1a1a1a" textLength="18.6" lengthAdjust="spacingAndGlyphs">change</text>
<text x="509.8" y="133.4" font-size="9" text-anchor="middle" font-weight="bold" fill="#000">**</text>
</g>
<g id="barE">
<line x1="447.0" y1="235.15" x2="447.0" y2="307.70000000000005" stroke="#4a4a4a" stroke-width="1.1"/>
<line x1="446.5" y1="307.1" x2="520" y2="307.1" stroke="#4a4a4a" stroke-width="1.1"/>
<line x1="444.4" y1="307.1" x2="447.0" y2="307.1" stroke="#4a4a4a" stroke-width="0.9"/>
<text x="443.5" y="309.20000000000005" font-size="5.9" text-anchor="end" font-weight="normal" fill="#222" textLength="2.9" lengthAdjust="spacingAndGlyphs">0</text>
<line x1="444.4" y1="283.25" x2="447.0" y2="283.25" stroke="#4a4a4a" stroke-width="0.9"/>
<text x="443.5" y="285.35" font-size="5.9" text-anchor="end" font-weight="normal" fill="#222" textLength="6.9" lengthAdjust="spacingAndGlyphs">0.5</text>
<line x1="444.4" y1="259.40000000000003" x2="447.0" y2="259.40000000000003" stroke="#4a4a4a" stroke-width="0.9"/>
<text x="443.5" y="261.50000000000006" font-size="5.9" text-anchor="end" font-weight="normal" fill="#222" textLength="2.9" lengthAdjust="spacingAndGlyphs">1</text>
<line x1="444.4" y1="235.55" x2="447.0" y2="235.55" stroke="#4a4a4a" stroke-width="0.9"/>
<text x="443.5" y="237.65" font-size="5.9" text-anchor="end" font-weight="normal" fill="#222" textLength="6.9" lengthAdjust="spacingAndGlyphs">1.5</text>
<line x1="445.3" y1="295.175" x2="447.0" y2="295.175" stroke="#4a4a4a" stroke-width="0.7"/>
<line x1="445.3" y1="271.32500000000005" x2="447.0" y2="271.32500000000005" stroke="#4a4a4a" stroke-width="0.7"/>
<line x1="445.3" y1="247.47500000000002" x2="447.0" y2="247.47500000000002" stroke="#4a4a4a" stroke-width="0.7"/>
<rect x="456.3" y="259.4" width="12.7" height="47.7" fill="#000"/>
<text x="456" y="314.4" font-size="6.3" text-anchor="start" font-weight="normal" fill="#1a1a1a" textLength="15.1" lengthAdjust="spacingAndGlyphs">Day 1</text>
<rect x="479.8" y="260.83" width="12.8" height="46.27" fill="#000"/>
<line x1="486.20000000000005" y1="248.42900000000003" x2="486.20000000000005" y2="260.831" stroke="#333" stroke-width="0.8"/>
<line x1="483.90000000000003" y1="248.42900000000003" x2="488.50000000000006" y2="248.42900000000003" stroke="#333" stroke-width="0.9"/>
<text x="479.3" y="314.4" font-size="6.3" text-anchor="start" font-weight="normal" fill="#1a1a1a" textLength="14.7" lengthAdjust="spacingAndGlyphs">Day 7</text>
<rect x="502.7" y="259.26" width="12.9" height="47.84" fill="#000"/>
<line x1="509.15" y1="243.4205" x2="509.15" y2="259.25690000000003" stroke="#333" stroke-width="0.8"/>
<line x1="506.84999999999997" y1="243.4205" x2="511.45" y2="243.4205" stroke="#333" stroke-width="0.9"/>
<text x="501.8" y="314.4" font-size="6.3" text-anchor="start" font-weight="normal" fill="#1a1a1a" textLength="18.6" lengthAdjust="spacingAndGlyphs">Day 14</text>
<text x="425.6" y="268.4" font-size="6.2" text-anchor="start" font-weight="normal" fill="#1a1a1a" textLength="11.1" lengthAdjust="spacingAndGlyphs">Fold</text>
<text x="421.9" y="275.1" font-size="6.2" text-anchor="start" font-weight="normal" fill="#1a1a1a" textLength="18.8" lengthAdjust="spacingAndGlyphs">change</text>
</g>
</svg></body></html>
